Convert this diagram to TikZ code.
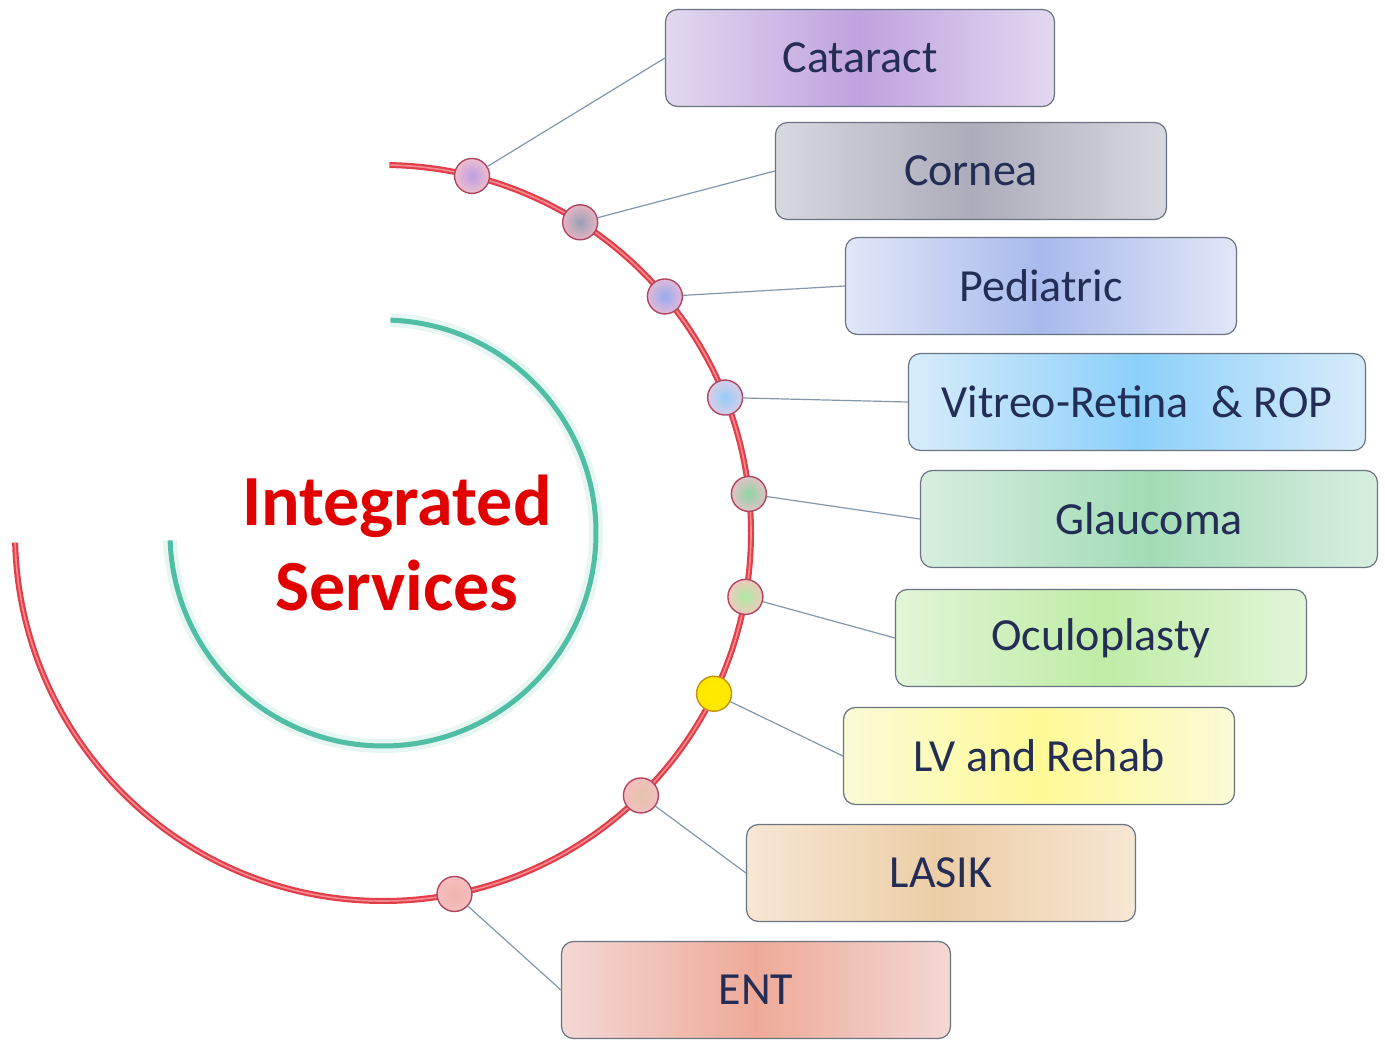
\documentclass[tikz,border=0pt]{standalone}
\usepackage{fontspec}
\setmainfont{Carlito}

\definecolor{arcred}{RGB}{226,62,74}
\definecolor{arcpink}{RGB}{244,140,145}
\definecolor{ringteal}{RGB}{80,190,165}
\definecolor{titlered}{RGB}{225,0,0}
\definecolor{labelblue}{RGB}{35,45,85}
\definecolor{linkgray}{RGB}{130,150,170}
\definecolor{boxline}{RGB}{105,115,130}
\definecolor{rimred}{RGB}{175,70,95}
\definecolor{rimyel}{RGB}{195,145,20}

% box shading: edge / middle
\definecolor{edge1}{RGB}{226,216,240} \definecolor{mid1}{RGB}{192,162,222}
\definecolor{edge2}{RGB}{216,216,224} \definecolor{mid2}{RGB}{172,172,186}
\definecolor{edge3}{RGB}{226,231,248} \definecolor{mid3}{RGB}{168,186,236}
\definecolor{edge4}{RGB}{216,236,250} \definecolor{mid4}{RGB}{140,208,250}
\definecolor{edge5}{RGB}{216,238,224} \definecolor{mid5}{RGB}{162,220,182}
\definecolor{edge6}{RGB}{226,245,216} \definecolor{mid6}{RGB}{192,236,166}
\definecolor{edge7}{RGB}{250,250,216} \definecolor{mid7}{RGB}{255,250,150}
\definecolor{edge8}{RGB}{246,231,212} \definecolor{mid8}{RGB}{236,206,166}
\definecolor{edge9}{RGB}{243,216,212} \definecolor{mid9}{RGB}{238,170,152}

% bead shading: core / ring
\definecolor{core1}{RGB}{188,160,228} \definecolor{ring1}{RGB}{238,188,205}
\definecolor{core2}{RGB}{150,160,178} \definecolor{ring2}{RGB}{230,180,195}
\definecolor{core3}{RGB}{150,172,240} \definecolor{ring3}{RGB}{225,185,215}
\definecolor{core4}{RGB}{150,205,250} \definecolor{ring4}{RGB}{215,205,230}
\definecolor{core5}{RGB}{140,212,160} \definecolor{ring5}{RGB}{225,195,200}
\definecolor{core6}{RGB}{170,236,160} \definecolor{ring6}{RGB}{240,200,190}
\definecolor{core7}{RGB}{255,236,0}   \definecolor{ring7}{RGB}{255,230,0}
\definecolor{core8}{RGB}{226,196,172} \definecolor{ring8}{RGB}{245,190,190}
\definecolor{core9}{RGB}{240,180,172} \definecolor{ring9}{RGB}{245,190,190}

\tikzset{
  service/.style={draw=boxline, line width=1.2pt, rounded corners=12pt,
    minimum height=97pt, inner sep=0pt, text=labelblue,
    font=\fontsize{46}{50}\selectfont},
  bead/.style={circle, line width=1.4pt, minimum size=35pt, inner sep=0pt},
  link/.style={draw=linkgray, line width=1.2pt}
}

\begin{document}
\begin{tikzpicture}[x=1pt, y=1pt]
    \useasboundingbox (0,0) rectangle (1385,-1040);
    \coordinate (c) at (383,-533);

    % Outer arc
    \draw[arcred, line width=6pt] (c) ++(89:368)
      arc[start angle=89, end angle=-178.5, radius=368];
    \draw[arcpink, line width=1.6pt] (c) ++(89:368)
      arc[start angle=89, end angle=-178.5, radius=368];

    % Inner arc
    \draw[ringteal!30, line width=14pt, opacity=0.45] (c) ++(88:213)
      arc[start angle=88, end angle=-178, radius=213];
    \draw[ringteal, line width=5pt] (c) ++(88:213)
      arc[start angle=88, end angle=-178, radius=213];

    % Title
    \node[font=\fontsize{72}{85}\selectfont\bfseries, text=titlered, align=center]
      (title) at (397,-543) {Integrated\\Services};

    % Services
    \foreach \lab/\ang/\bx/\by/\bw/\rim [count=\i] in {
        Cataract/76/860/58/389/rimred,
        Cornea/57.6/971/171/391/rimred,
        Pediatric/40/1041/286/391/rimred,
        Vitreo-Retina\enspace\& ROP/21.6/1137/402/457/rimred,
        Glaucoma/6.1/1149/519/457/rimred,
        Oculoplasty/-10/1101/638/411/rimred,
        LV and Rehab/-25.9/1039/756/391/rimyel,
        LASIK/-45.5/941/873/389/rimred,
        ENT/-78.8/756/990/389/rimred} {
      \node[bead, draw=\rim, inner color=core\i, outer color=ring\i]
        (bead\i) at ([shift={(\ang:368)}]c) {};
      \node[service, minimum width=\bw pt, left color=edge\i,
        right color=edge\i, middle color=mid\i] (box\i) at (\bx,-\by) {\lab};
      \draw[link] (bead\i) -- (box\i.west);
    }
\end{tikzpicture}
\end{document}
